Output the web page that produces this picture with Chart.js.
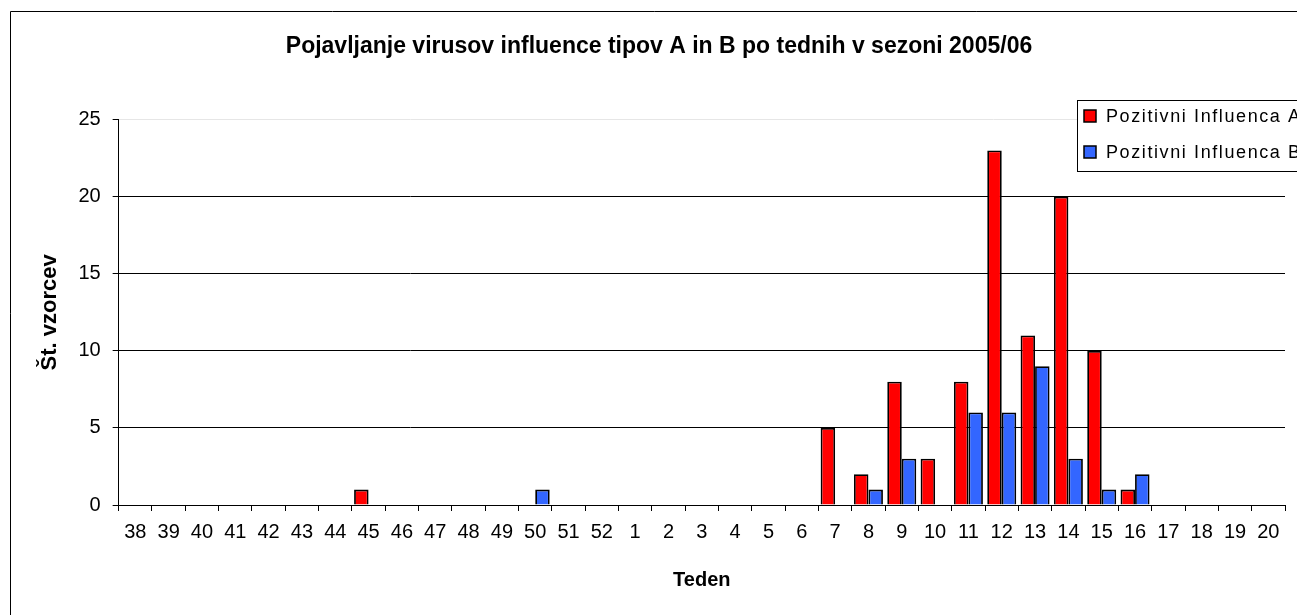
<!DOCTYPE html>
<html>
<head>
<meta charset="utf-8">
<script src="https://cdn.jsdelivr.net/npm/chart.js@4.4.1/dist/chart.umd.min.js"></script>
<style>
  html, body { margin: 0; padding: 0; background: #fff; }
  #wrap { width: 1297px; height: 615px; position: relative; }
</style>
</head>
<body>
<div id="wrap"><canvas id="flu-chart" width="1297" height="615"></canvas></div>
<script>
// tedni v sezoni 2005/06
var weeks = ["38","39","40","41","42","43","44","45","46","47","48","49","50","51","52",
  "1","2","3","4","5","6","7","8","9","10","11","12","13","14","15","16","17","18","19","20"];

var influencaA = [0,0,0,0,0,0,0,1,0,0,0,0,0,0,0,
  0,0,0,0,0,0,5,2,8,3,8,23,11,20,10,1,0,0,0,0];
var influencaB = [0,0,0,0,0,0,0,0,0,0,0,0,1,0,0,
  0,0,0,0,0,0,0,1,3,0,6,6,9,3,1,2,0,0,0,0];

var yTicks = [0, 5, 10, 15, 20, 25];

var FONT = "'Liberation Sans', Arial, sans-serif";

// okvir + legenda (legenda je odrezana na desnem robu kot v izvirniku)
var frame = {
  id: 'frame',
  beforeDraw: function(chart){
    var c = chart.ctx;
    c.save();
    c.fillStyle = '#fff';
    c.fillRect(0, 0, chart.width, chart.height);
    c.strokeStyle = '#000';
    c.lineWidth = 1;
    c.beginPath();
    c.moveTo(10.5, chart.height + 2);
    c.lineTo(10.5, 11.5);
    c.lineTo(chart.width + 2, 11.5);
    c.stroke();
    c.restore();
  },
  afterDraw: function(chart){
    var c = chart.ctx;
    var ds = chart.data.datasets;
    c.save();
    c.fillStyle = '#fff';
    c.fillRect(1077, 100, 240, 71);
    c.strokeStyle = '#000';
    c.lineWidth = 1;
    c.strokeRect(1077.5, 100.5, 240, 71);
    c.font = '18px ' + FONT;
    c.letterSpacing = '1.6px';
    c.textBaseline = 'middle';
    ds.forEach(function(d, i){
      var y = 116 + i * 36;
      c.fillStyle = d.backgroundColor;
      c.fillRect(1084, y - 6, 12, 12);
      c.lineWidth = 1.5;
      c.strokeRect(1084, y - 6, 12, 12);
      c.fillStyle = '#000';
      c.fillText(d.label, 1106, y + 1);
    });
    c.restore();
  }
};

new Chart(document.getElementById('flu-chart'), {
  type: 'bar',
  data: {
    labels: weeks,
    datasets: [{
      label: 'Pozitivni Influenca A',
      data: influencaA,
      backgroundColor: '#ff0000',
      borderColor: '#000',
      borderWidth: 1.8,
      borderSkipped: 'bottom'
    }, {
      label: 'Pozitivni Influenca B',
      data: influencaB,
      backgroundColor: '#3366ff',
      borderColor: '#000',
      borderWidth: 1.8,
      borderSkipped: 'bottom'
    }]
  },
  options: {
    responsive: false,
    animation: false,
    devicePixelRatio: 1,
    layout: { padding: { left: 33, right: 12, top: 0, bottom: 19 } },
    datasets: { bar: { categoryPercentage: 0.87, barPercentage: 1.0 } },
    plugins: {
      legend: { display: false },
      tooltip: { enabled: false },
      title: {
        display: true,
        text: 'Pojavljanje virusov influence tipov A in B po tednih v sezoni 2005/06',
        color: '#000',
        font: { family: FONT, size: 23, weight: 'bold' },
        padding: { top: 33, bottom: 59 }
      }
    },
    scales: {
      x: {
        grid: { display: true, drawOnChartArea: false, drawTicks: true, tickLength: 6, color: '#000', offset: true },
        border: { color: '#000', width: 1 },
        ticks: { color: '#000', font: { family: FONT, size: 20 }, padding: 9, maxRotation: 0, autoSkip: false },
        title: { display: true, text: 'Teden', color: '#000', font: { family: FONT, size: 20, weight: 'bold' }, padding: { top: 15 } }
      },
      y: {
        min: 0,
        max: 25,
        afterBuildTicks: function(axis){ axis.ticks = yTicks.map(function(v){ return { value: v }; }); },
        grid: {
          color: function(ctx){ return ctx.tick && ctx.tick.value === 25 ? '#e6e6e6' : '#000'; },
          tickColor: '#000',
          tickLength: 6,
          lineWidth: 1
        },
        border: { color: '#000', width: 1 },
        ticks: { color: '#000', font: { family: FONT, size: 20 }, padding: 12 },
        title: { display: true, text: 'Št. vzorcev', color: '#000', font: { family: FONT, size: 22, weight: 'bold' }, padding: { top: 4, bottom: 3 } }
      }
    }
  },
  plugins: [frame]
});
</script>
</body>
</html>
